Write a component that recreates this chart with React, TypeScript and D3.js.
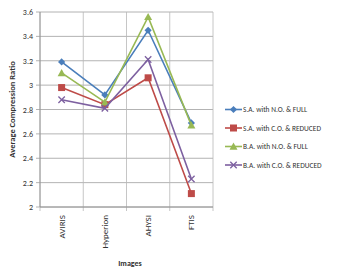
import React from "react";
import * as d3 from "d3";

const categories = ["AVIRIS", "Hyperion", "AHYSI", "FTIS"];
const seriesNames = [
  "S.A. with N.O. & FULL",
  "S.A. with C.O. & REDUCED",
  "B.A. with N.O. & FULL",
  "B.A. with C.O. & REDUCED",
];
const saNoFull = [3.19, 2.92, 3.45, 2.69];
const saCoReduced = [2.98, 2.84, 3.06, 2.11];
const baNoFull = [3.1, 2.86, 3.56, 2.67];
const baCoReduced = [2.88, 2.81, 3.21, 2.23];
const yTicks = [2, 2.2, 2.4, 2.6, 2.8, 3, 3.2, 3.4, 3.6];
const colors = ["#4A7EBB", "#BE4B48", "#98B954", "#7D60A0"];
const markers = ["diamond", "square", "triangle", "x"];

const allSeries = [saNoFull, saCoReduced, baNoFull, baCoReduced];

function Marker({ type, x, y, color }: { type: string; x: number; y: number; color: string }) {
  if (type === "diamond") {
    const s = 3.6;
    return <path d={`M${x},${y - s}L${x + s},${y}L${x},${y + s}L${x - s},${y}Z`} fill={color} />;
  }
  if (type === "square") {
    const s = 3.5;
    return <rect x={x - s} y={y - s} width={2 * s} height={2 * s} fill={color} />;
  }
  if (type === "triangle") {
    const s = 4;
    return <path d={`M${x},${y - s}L${x + s},${y + s * 0.8}L${x - s},${y + s * 0.8}Z`} fill={color} />;
  }
  const s = 3.2;
  return (
    <path
      d={`M${x - s},${y - s}L${x + s},${y + s}M${x - s},${y + s}L${x + s},${y - s}`}
      stroke={color}
      strokeWidth={1.3}
      fill="none"
    />
  );
}

export default function App() {
  const W = 342;
  const H = 274;
  const left = 40;
  const right = 213;
  const top = 12;
  const bottom = 207;
  const x = d3.scaleBand<string>().domain(categories).range([left, right]);
  const y = d3.scaleLinear().domain([2, 3.6]).range([bottom, top]);
  const line = d3
    .line<number>()
    .x((_, i) => (x(categories[i]) as number) + x.bandwidth() / 2)
    .y((d) => y(d));
  const font = "Calibri, 'Liberation Sans', Arial, sans-serif";
  const bounds = categories.map((c) => x(c) as number).concat([right]);
  return (
    <svg
      width={W}
      height={H}
      style={{ position: "absolute", left: 0, top: 0, background: "#fff" }}
      fontFamily={font}
    >
      {yTicks.map((t) => (
        <g key={t}>
          <line x1={left - 4} x2={right} y1={y(t)} y2={y(t)} stroke="#A0A0A0" strokeWidth={0.8} />
          <text x={left - 7} y={y(t) + 3} textAnchor="end" fontSize={8} fill="#333">
            {t === 2 || t === 3 ? String(t) : t.toFixed(1)}
          </text>
        </g>
      ))}
      {bounds.map((b, i) => (
        <line key={i} x1={b} x2={b} y1={top} y2={bottom + 4} stroke="#B8B8B8" strokeWidth={0.8} />
      ))}
      <line x1={left} x2={left} y1={top} y2={bottom} stroke="#888" strokeWidth={0.8} />
      <line x1={left} x2={right} y1={bottom} y2={bottom} stroke="#888" strokeWidth={0.8} />
      {categories.map((c) => {
        const cx = (x(c) as number) + x.bandwidth() / 2;
        return (
          <text
            key={c}
            transform={`translate(${cx + 3},${bottom + 8}) rotate(-90)`}
            textAnchor="end"
            fontSize={9}
            fill="#333"
          >
            {c}
          </text>
        );
      })}
      {allSeries.map((s, i) => (
        <g key={i}>
          <path d={line(s) || ""} fill="none" stroke={colors[i]} strokeWidth={1.6} />
          {s.map((v, j) => (
            <Marker
              key={j}
              type={markers[i]}
              x={(x(categories[j]) as number) + x.bandwidth() / 2}
              y={y(v)}
              color={colors[i]}
            />
          ))}
        </g>
      ))}
      <text
        transform={`translate(15,${(top + bottom) / 2}) rotate(-90)`}
        textAnchor="middle"
        fontSize={8.5}
        fontWeight="bold"
        fill="#333"
      >
        Average Compression Ratio
      </text>
      <text x={130} y={266} textAnchor="middle" fontSize={8} fontWeight="bold" fill="#333">
        Images
      </text>
      {seriesNames.map((n, i) => {
        const ly = 109.5 + i * 18.5;
        return (
          <g key={n}>
            <line x1={225} x2={242} y1={ly} y2={ly} stroke={colors[i]} strokeWidth={1.6} />
            <Marker type={markers[i]} x={233.5} y={ly} color={colors[i]} />
            <text x={243} y={ly + 2.5} fontSize={7.4} fill="#333">
              {n}
            </text>
          </g>
        );
      })}
    </svg>
  );
}
